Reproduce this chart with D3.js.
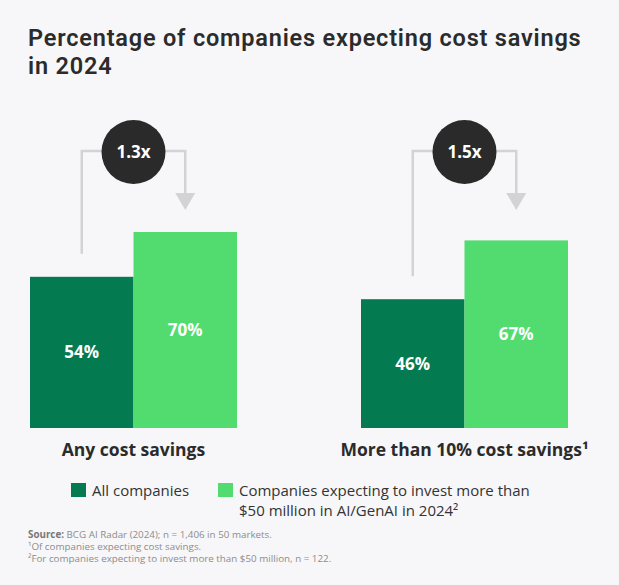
<!DOCTYPE html>
<html>
<head>
<meta charset="utf-8">
<script src="https://cdn.jsdelivr.net/npm/d3@7"></script>
<style>
  html, body { margin: 0; padding: 0; background: #f7f7f9; }
  svg { display: block; font-family: "Open Sans", "Noto Sans", sans-serif; }
</style>
</head>
<body>
<svg id="chart" width="619" height="585"></svg>
<script>
// ---- data ----
const categories = ["Any cost savings", "More than 10% cost savings"];
const categorySuperscripts = ["", "¹"];
const seriesNames = ["All companies", "Companies expecting to invest more than $50 million in AI/GenAI in 2024²"];
const allCompanies = [54, 46];
const investingCompanies = [70, 67];
const multipliers = ["1.3x", "1.5x"];
const titleLines = ["Percentage of companies expecting cost savings", "in 2024"];
const legendLines = [["All companies"], ["Companies expecting to invest more than", "$50 million in AI/GenAI in 2024²"]];
const footnotes = [
  ["Source:", " BCG AI Radar (2024); n = 1,406 in 50 markets."],
  ["", "¹Of companies expecting cost savings."],
  ["", "²For companies expecting to invest more than $50 million, n = 122."]
];

const colors = ["#047a50", "#52dc6f"];
const svg = d3.select("#chart");

// background
svg.append("rect").attr("width", 619).attr("height", 585).attr("fill", "#f7f7f9");

// title (two separate lines, tight-metric font so line boxes do not overlap)
titleLines.forEach((t, i) => {
  svg.append("text")
    .attr("x", 28).attr("y", i === 0 ? 46 : 74)
    .attr("font-family", "Roboto, 'Open Sans', sans-serif")
    .attr("letter-spacing", 0.8)
    .attr("fill", "#2b2b2b").attr("font-size", 23.5).attr("font-weight", 600)
    .text(t);
});

// scales
const x0 = d3.scaleBand().domain(categories).range([30, 568]).paddingInner(0.3746).paddingOuter(0);
const x1 = d3.scaleBand().domain([0, 1]).range([0, x0.bandwidth()]).padding(0);
const y = d3.scaleLinear().domain([0, 100]).range([428, 148]);

const data = categories.map((c, i) => ({
  cat: c, sup: categorySuperscripts[i], mult: multipliers[i],
  vals: [allCompanies[i], investingCompanies[i]]
}));

const groups = svg.selectAll("g.grp").data(data).join("g")
  .attr("class", "grp")
  .attr("transform", d => `translate(${x0(d.cat)},0)`);

// connector
const lineColor = "#d3d3d5";
const topY = 151;
const arrowTip = 210;
groups.each(function(d) {
  const g = d3.select(this);
  const cx0 = x1(0) + x1.bandwidth() / 2;
  const cx1 = x1(1) + x1.bandwidth() / 2;
  g.append("path")
    .attr("d", `M${cx0},${y(d.vals[0]) - 23} V${topY} H${cx1} V${arrowTip - 14}`)
    .attr("fill", "none").attr("stroke", lineColor).attr("stroke-width", 2.5);
  g.append("path")
    .attr("d", `M${cx1 - 10},${arrowTip - 17} L${cx1 + 10},${arrowTip - 17} L${cx1},${arrowTip} Z`)
    .attr("fill", lineColor);
  const cm = x0.bandwidth() / 2;
  g.append("circle").attr("cx", cm).attr("cy", 152).attr("r", 32).attr("fill", "#2a2a2a");
  g.append("text").attr("x", cm).attr("y", 158).attr("text-anchor", "middle")
    .attr("fill", "#fff").attr("font-size", 17).attr("font-weight", 700).text(d.mult);
});

// bars
groups.selectAll("rect.bar").data(d => d.vals.map((v, j) => ({ v, j }))).join("rect")
  .attr("class", "bar")
  .attr("x", d => x1(d.j))
  .attr("width", x1.bandwidth())
  .attr("y", d => y(d.v))
  .attr("height", d => y(0) - y(d.v))
  .attr("fill", d => colors[d.j]);

groups.selectAll("text.val").data(d => d.vals.map((v, j) => ({ v, j }))).join("text")
  .attr("class", "val")
  .attr("x", d => x1(d.j) + x1.bandwidth() / 2)
  .attr("y", d => (y(d.v) + y(0)) / 2 + 6)
  .attr("text-anchor", "middle")
  .attr("fill", "#ffffff").attr("font-size", 17).attr("font-weight", 700)
  .text(d => d.v + "%");

// category labels
groups.append("text")
  .attr("x", x0.bandwidth() / 2).attr("y", 456)
  .attr("text-anchor", "middle")
  .attr("fill", "#2b2b2b").attr("font-size", 17.5).attr("font-weight", 700)
  .text(d => d.cat + d.sup);

// legend
const legendX = [71, 218];
legendLines.forEach((lines, i) => {
  svg.append("rect").attr("x", legendX[i]).attr("y", 483).attr("width", 15).attr("height", 14).attr("fill", colors[i]);
  const t = svg.append("text").attr("y", 496).attr("fill", "#333").attr("font-size", 15);
  lines.forEach((l, k) => t.append("tspan").attr("x", legendX[i] + 21).attr("dy", k === 0 ? 0 : 20).text(l));
});

// footnotes
footnotes.forEach((f, i) => {
  const t = svg.append("text").attr("x", 28).attr("y", 538 + i * 11.8).attr("font-size", 9.8).attr("fill", "#8c8c8c");
  if (f[0]) t.append("tspan").attr("font-weight", 700).attr("fill", "#777").text(f[0]);
  t.append("tspan").text(f[1]);
});
</script>
</body>
</html>
